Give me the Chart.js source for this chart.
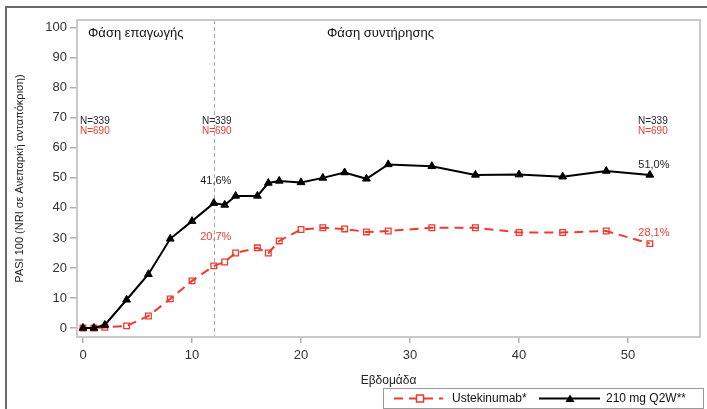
<!DOCTYPE html>
<html lang="el">
<head>
<meta charset="utf-8">
<title>PASI 100</title>
<script src="https://cdn.jsdelivr.net/npm/chart.js@4/dist/chart.umd.min.js"></script>
<style>
  html, body { margin: 0; padding: 0; background: #fff; }
  .wrap { position: relative; width: 707px; height: 409px; }
</style>
</head>
<body>
<div class="wrap"><canvas id="pasiChart" width="707" height="409"></canvas></div>
<script>
  // weeks and response rates (%)
  const weeks = [0, 1, 2, 4, 6, 8, 10, 12, 13, 14, 16, 17, 18, 20, 22, 24, 26, 28, 32, 36, 40, 44, 48, 52];
  const q2wValues = [0, 0, 1, 9.4, 17.9, 29.7, 35.6, 41.6, 41, 44, 44, 48.3, 49, 48.5, 50, 51.8, 49.7, 54.5, 53.9, 51, 51.1, 50.4, 52.3, 51.0];
  const ustValues = [0, 0, 0.2, 0.7, 4, 9.7, 15.7, 20.7, 22, 25, 26.7, 25, 29, 32.8, 33.4, 33, 32, 32.3, 33.4, 33.4, 31.8, 31.8, 32.3, 28.1];
  const xTicks = [0, 10, 20, 30, 40, 50];
  const yTicks = [0, 10, 20, 30, 40, 50, 60, 70, 80, 90, 100];
  const nWeeks = [0, 12, 52];
  const nQ2w = 'N=339';
  const nUst = 'N=690';
  const pctWeeks = [12, 52];
  const pctQ2w = ['41,6%', '51,0%'];
  const pctUst = ['20,7%', '28,1%'];

  const RED = '#ee3a2f';
  const BLACK = '#000';
  const FONT = '"Liberation Sans", Arial, sans-serif';

  const toPoints = (vals) => weeks.map((w, i) => ({ x: w, y: vals[i] }));

  const decorations = {
    id: 'decorations',
    beforeDatasetsDraw(chart) {
      const { ctx, chartArea: a, scales: { x } } = chart;
      ctx.save();
      // phase separator
      const px = Math.round(x.getPixelForValue(12)) + 0.5;
      ctx.strokeStyle = '#a8a8a8';
      ctx.lineWidth = 1;
      ctx.setLineDash([4, 3]);
      ctx.beginPath();
      ctx.moveTo(px, a.top);
      ctx.lineTo(px, a.bottom);
      ctx.stroke();
      ctx.restore();
    },
    afterDraw(chart) {
      const { ctx, chartArea: a, scales: { x, y } } = chart;
      ctx.save();
      // plot frame
      ctx.strokeStyle = '#c9c9c9';
      ctx.lineWidth = 2;
      ctx.strokeRect(a.left, a.top, a.right - a.left, a.bottom - a.top);
      // outer border
      ctx.strokeStyle = '#6a6a6a';
      ctx.lineWidth = 2;
      ctx.strokeRect(6, 7, 760, 460);

      // phase titles
      ctx.fillStyle = '#111';
      ctx.font = '13px ' + FONT;
      ctx.textBaseline = 'middle';
      ctx.textAlign = 'left';
      ctx.fillText('Φάση επαγωγής', 88, 33);
      ctx.fillText('Φάση συντήρησης', 327, 33);

      // N counts
      ctx.font = '10px ' + FONT;
      nWeeks.forEach((w) => {
        let tx = x.getPixelForValue(w);
        if (w === 0) { ctx.textAlign = 'left'; tx -= 3; } else { ctx.textAlign = 'center'; tx += 3; }
        ctx.fillStyle = '#222';
        ctx.fillText(nQ2w, tx, y.getPixelForValue(69));
        ctx.fillStyle = RED;
        ctx.fillText(nUst, tx, y.getPixelForValue(65.7));
      });

      // percentage labels
      ctx.font = '11px ' + FONT;
      ctx.textAlign = 'center';
      pctWeeks.forEach((w, i) => {
        const idx = weeks.indexOf(w);
        const tx = x.getPixelForValue(w) + (w === 12 ? 2 : 4);
        const up = w === 12 ? [22, 29] : [10, 11];
        ctx.fillStyle = '#222';
        ctx.fillText(pctQ2w[i], tx, y.getPixelForValue(q2wValues[idx]) - up[0]);
        ctx.fillStyle = RED;
        ctx.fillText(pctUst[i], tx, y.getPixelForValue(ustValues[idx]) - up[1]);
      });

      // legend
      ctx.strokeStyle = '#9a9a9a';
      ctx.lineWidth = 1;
      ctx.strokeRect(383.5, 388.5, 320, 20);
      const ly = 398.5;
      ctx.strokeStyle = RED;
      ctx.lineWidth = 2;
      ctx.setLineDash([9, 6]);
      ctx.beginPath();
      ctx.moveTo(394, ly);
      ctx.lineTo(443, ly);
      ctx.stroke();
      ctx.setLineDash([]);
      ctx.lineWidth = 1.5;
      ctx.fillStyle = '#fff';
      ctx.fillRect(416.5, ly - 3.5, 7, 7);
      ctx.strokeRect(416.5, ly - 3.5, 7, 7);
      ctx.strokeStyle = BLACK;
      ctx.lineWidth = 2;
      ctx.beginPath();
      ctx.moveTo(539, ly);
      ctx.lineTo(600, ly);
      ctx.stroke();
      ctx.fillStyle = BLACK;
      ctx.beginPath();
      ctx.moveTo(570, ly - 4);
      ctx.lineTo(574.5, ly + 3.5);
      ctx.lineTo(565.5, ly + 3.5);
      ctx.closePath();
      ctx.fill();
      ctx.fillStyle = '#111';
      ctx.font = '12px ' + FONT;
      ctx.textAlign = 'left';
      ctx.fillText('Ustekinumab*', 452, ly);
      ctx.fillText('210 mg Q2W**', 606, ly);
      ctx.restore();
    }
  };

  new Chart(document.getElementById('pasiChart'), {
    type: 'line',
    data: {
      datasets: [{
        label: '210 mg Q2W**',
        data: toPoints(q2wValues),
        borderColor: BLACK,
        backgroundColor: BLACK,
        borderWidth: 2,
        pointStyle: 'triangle',
        pointRadius: 4.5,
        pointBorderWidth: 1,
        tension: 0
      }, {
        label: 'Ustekinumab*',
        data: toPoints(ustValues),
        borderColor: RED,
        backgroundColor: 'rgba(0,0,0,0)',
        borderWidth: 2,
        borderDash: [9, 6],
        pointStyle: 'rect',
        pointRadius: 4,
        pointBorderWidth: 1.3,
        tension: 0
      }]
    },
    options: {
      responsive: false,
      animation: false,
      layout: { padding: { left: 0, top: 20, right: 7, bottom: 0 } },
      plugins: { legend: { display: false }, tooltip: { enabled: false } },
      scales: {
        x: {
          type: 'linear',
          min: -0.55,
          max: 56.6,
          afterFit: (s) => { s.height = 72; },
          afterBuildTicks: (s) => { s.ticks = xTicks.map((v) => ({ value: v })); },
          border: { display: false },
          grid: { drawOnChartArea: false, drawTicks: true, tickLength: 6, color: '#b0b0b0', lineWidth: 1.5 },
          ticks: { color: '#333', padding: 5, font: { family: FONT, size: 13 } },
          title: {
            display: true,
            text: 'Εβδομάδα',
            color: '#222',
            font: { family: FONT, size: 12 },
            padding: { top: 0, bottom: 21 }
          }
        },
        y: {
          min: -3,
          max: 102.6,
          afterFit: (s) => { s.width = 77; },
          afterBuildTicks: (s) => { s.ticks = yTicks.map((v) => ({ value: v })); },
          border: { display: false },
          grid: { drawOnChartArea: false, drawTicks: true, tickLength: 7, color: '#b0b0b0', lineWidth: 1.5 },
          ticks: { color: '#333', padding: 3, font: { family: FONT, size: 13 } },
          title: {
            display: true,
            text: 'PASI 100 (NRI σε Ανεπαρκή ανταπόκριση)',
            color: '#222',
            font: { family: FONT, size: 11 },
            padding: { top: 13, bottom: 0 }
          }
        }
      }
    },
    plugins: [decorations]
  });
</script>
</body>
</html>
